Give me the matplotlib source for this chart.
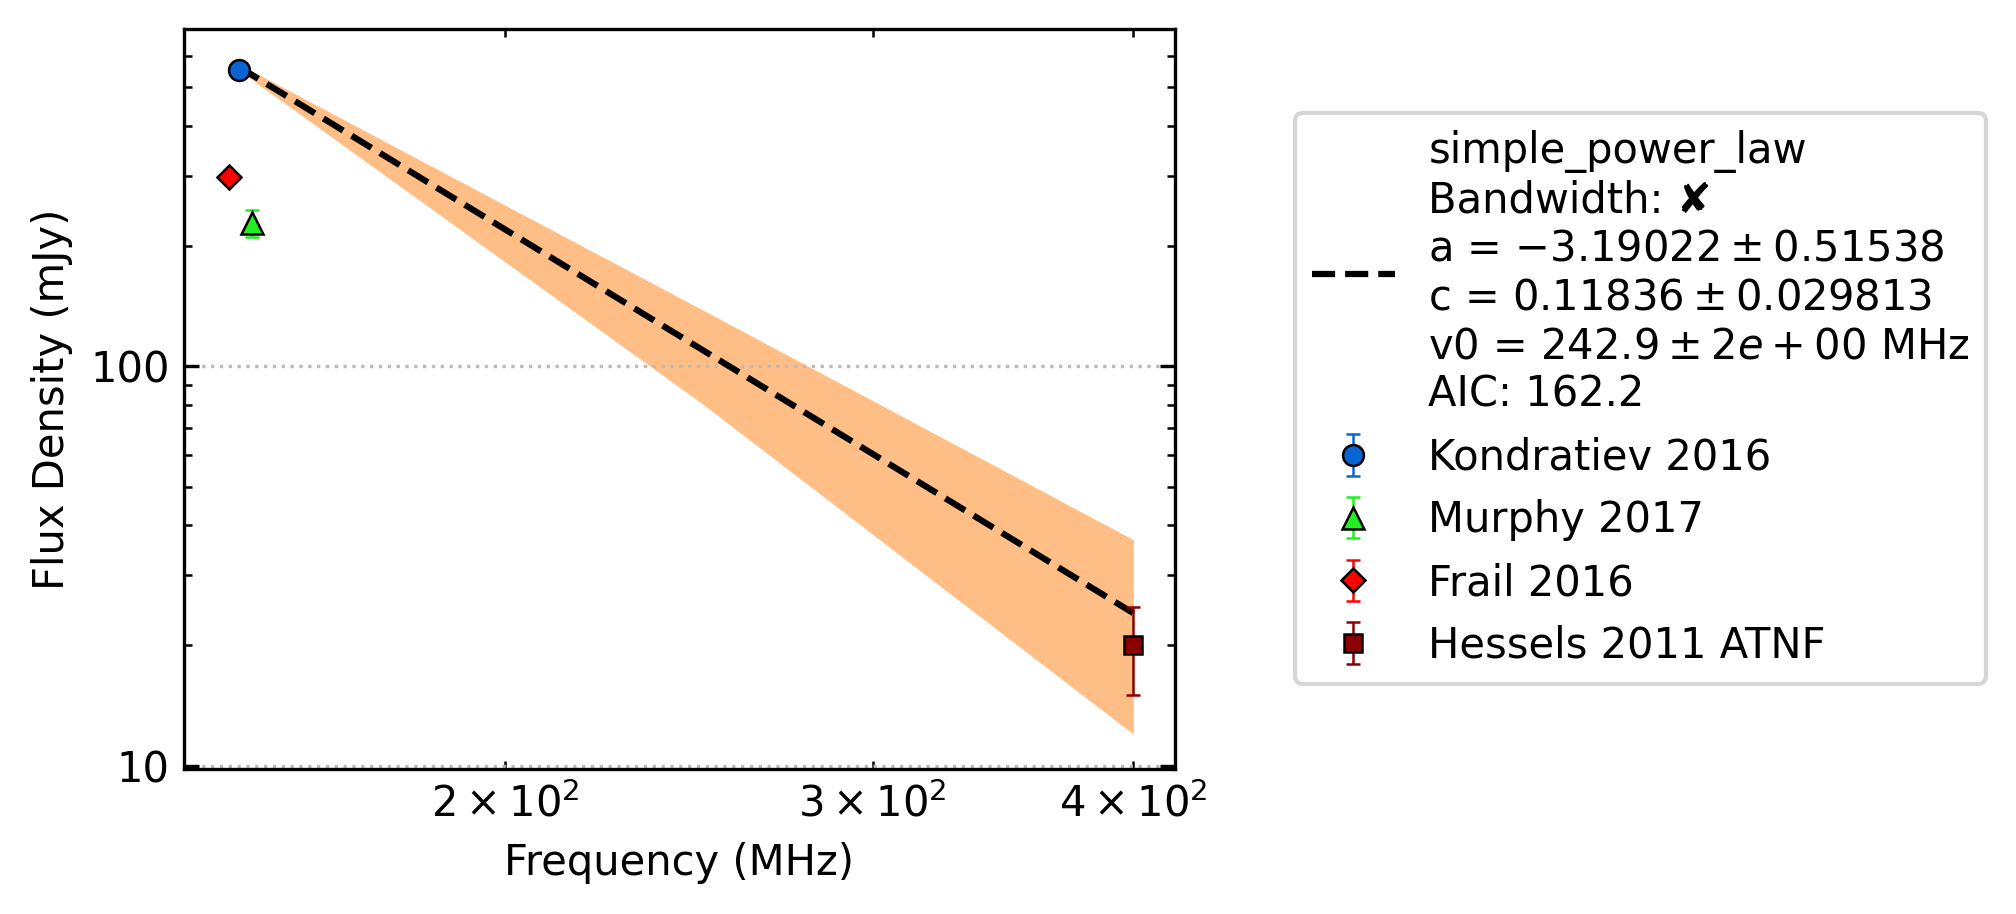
import numpy as np
import matplotlib.pyplot as plt
from matplotlib.ticker import ScalarFormatter

# Data points (frequency MHz, flux mJy, error mJy)
labels = ["Kondratiev 2016", "Murphy 2017", "Frail 2016", "Hessels 2011 ATNF"]
freqs = [149.0, 151.3, 147.5, 400.0]
fluxes = [553.0, 229.0, 298.0, 20.0]
flux_errs = [5.0, 18.0, 8.0, 5.0]
markers = ["o", "^", "D", "s"]
colors = ["#0a64d2", "#22ee22", "#ff0000", "#8b0000"]
msizes = [5.0, 5.5, 4.0, 4.5]

# Fitted simple power law and its uncertainty band
fit_freq = [149.0, 248.5, 400.0]
fit_flux = [562.8, 110.1, 24.1]
band_low = [552.0, 80.7, 12.0]
band_high = [572.0, 138.7, 36.8]
fit_label = ("simple_power_law\nBandwidth: \u2718\n"
             "a = $-3.19022 \\pm 0.51538$\n"
             "c = $0.11836 \\pm 0.029813$\n"
             "v0 = $242.9 \\pm 2e+00$ MHz\n"
             "AIC: 162.2")

plt.rcParams['font.size'] = 10

fig = plt.figure(figsize=(6.72, 3.047), dpi=300)
ax = fig.add_axes([0.0913, 0.1586, 0.4915, 0.8097])

ax.fill_between(fit_freq, band_low, band_high, color="C1", alpha=0.5, lw=0)
ax.plot(fit_freq, fit_flux, "k--", lw=1.5, label=fit_label)

for lab, f, s, e, m, c, ms in zip(labels, freqs, fluxes, flux_errs, markers, colors, msizes):
    ax.errorbar(f, s, yerr=e, fmt=m, color=c, ecolor=c, markersize=ms,
                markeredgecolor="black", markeredgewidth=0.6,
                elinewidth=0.6, capsize=1.6, capthick=0.6, label=lab)

ax.set_xscale("log")
ax.set_yscale("log")
ax.set_xlim(140.3, 418.8)
ax.set_ylim(9.81, 700)
ax.yaxis.set_major_formatter(ScalarFormatter())
ax.tick_params(which="both", direction="in", top=True, right=True)
ax.grid(True, which="major", axis="y", ls=":", color="#bbbbbb", lw=0.8)
ax.set_xlabel("Frequency (MHz)")
ax.set_ylabel("Flux Density (mJy)")

ax.legend(loc="upper left", bbox_to_anchor=(0.6424, 0.8764),
          bbox_transform=fig.transFigure, borderaxespad=0)

fig.savefig("out.png", dpi=300)
